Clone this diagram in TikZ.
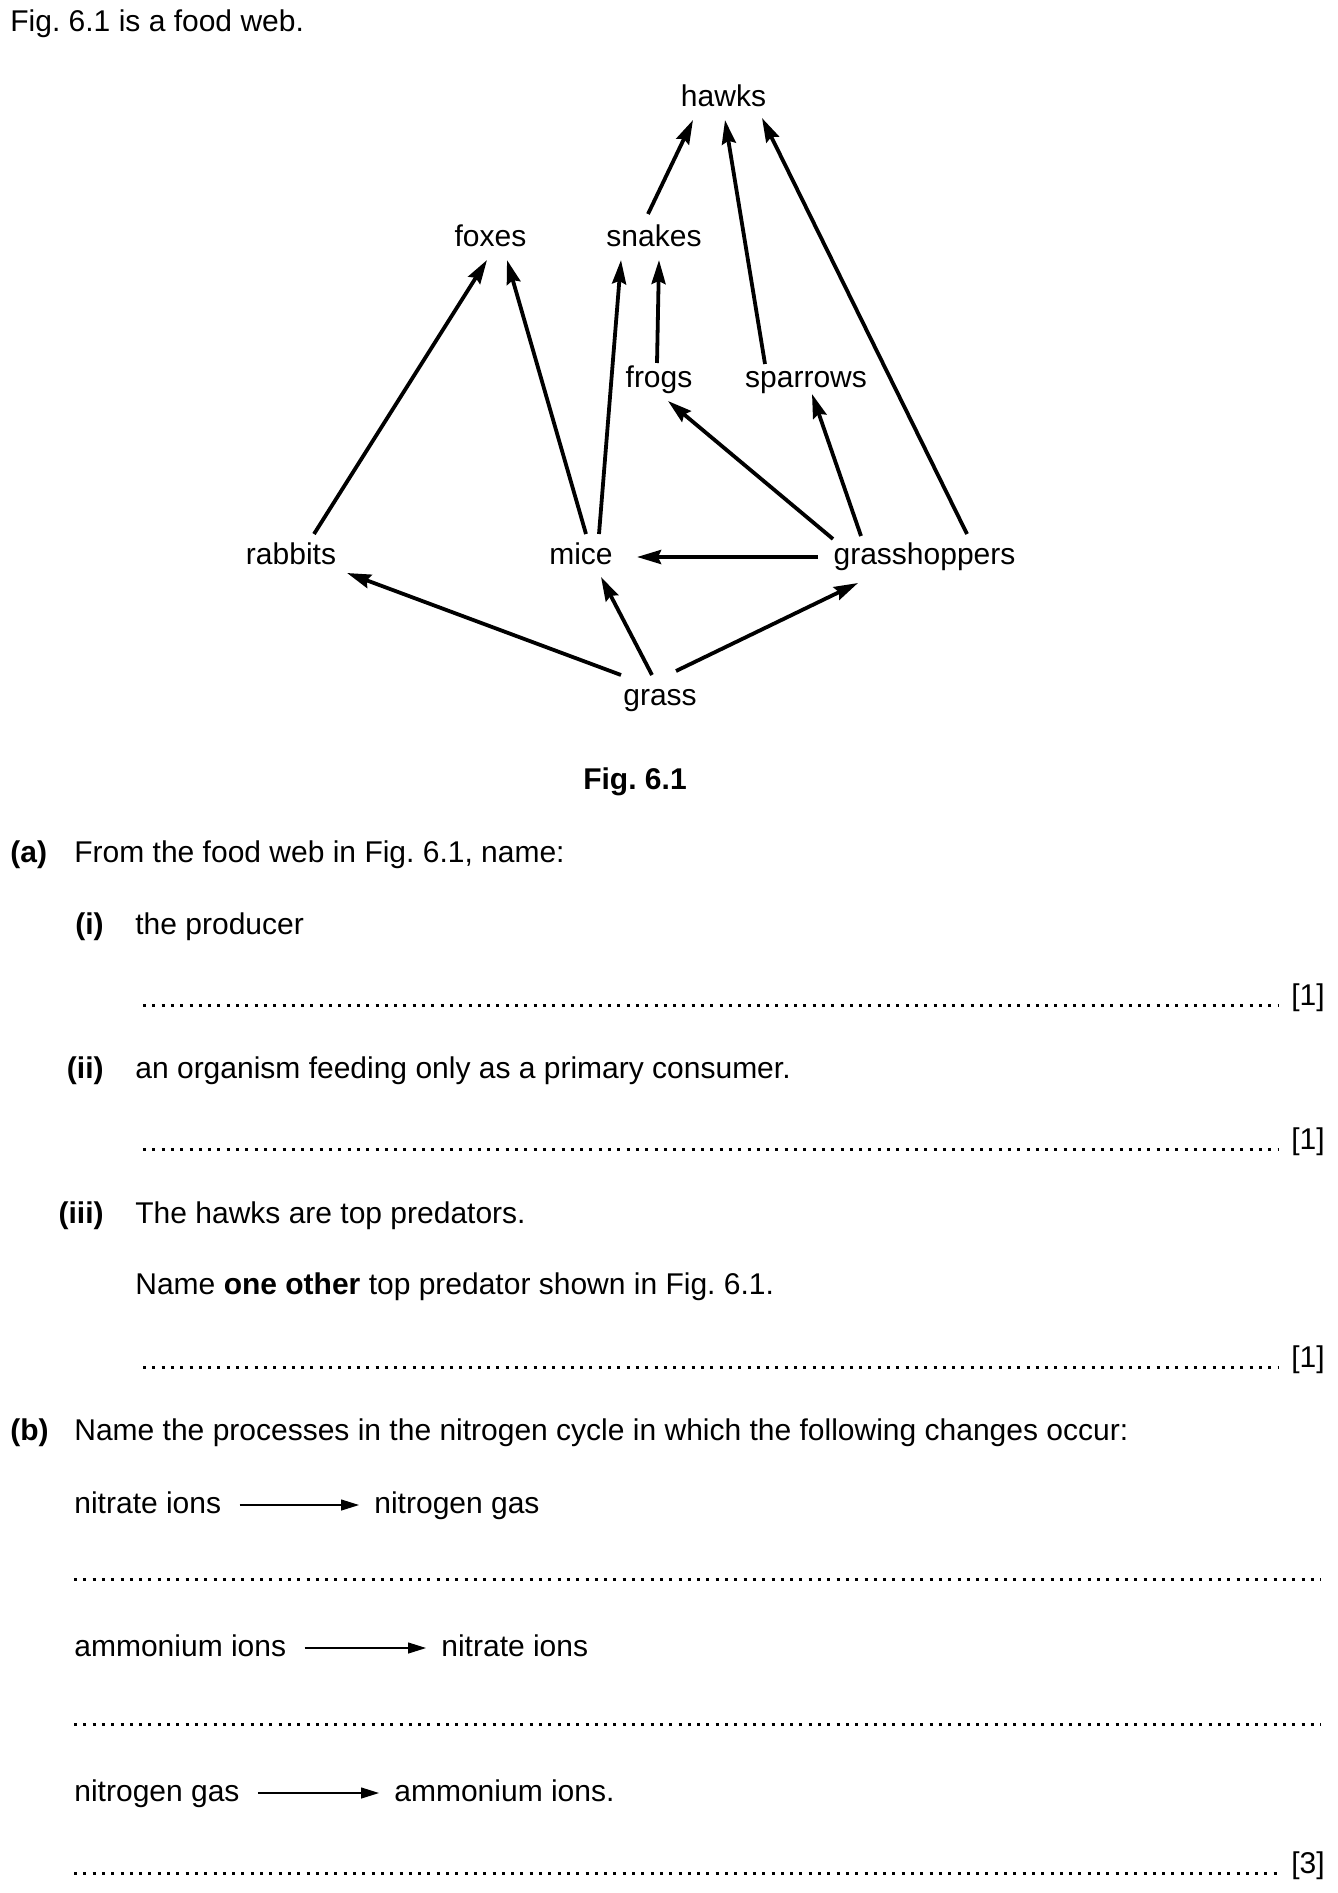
\documentclass[tikz,border=0pt]{standalone}
\usepackage{fontspec}
\setmainfont{Liberation Sans}
\usetikzlibrary{arrows.meta}
\frenchspacing
\begin{document}
\begin{tikzpicture}[x=0.5pt, y=-0.5pt,
        every node/.style={font=\fontsize{15}{18}\selectfont, inner sep=0pt},
        organism/.style={anchor=base, text height=11pt, text depth=2.5pt, outer sep=4pt},
        textline/.style={anchor=base west},
        score/.style={anchor=base east},
        feeds/.style={-{Stealth[length=12pt, width=7pt, inset=1.5pt]}, line width=1.9pt},
        reaction/.style={-{Triangle[length=9pt, width=5.5pt]}, line width=0.6pt},
        answer/.style={line width=1.5pt, dash pattern=on 1.5pt off 3.15pt}]
        \useasboundingbox (0,0) rectangle (1337,1893);

        % Introduzione
        \node[textline] (intro) at (10,32) {Fig. 6.1 is a food web.};

        % Organismi della rete
        \node[organism] (hawks) at (723.5,107) {hawks};
        \node[organism] (foxes) at (490.5,247) {foxes};
        \node[organism] (snakes) at (654,247) {snakes};
        \node[organism] (frogs) at (659,388) {frogs};
        \node[organism] (sparrows) at (806,388) {sparrows};
        \node[organism] (rabbits) at (291,564) {rabbits};
        \node[organism] (mice) at (581,564) {mice};
        \node[organism] (grasshoppers) at (924.5,564) {grasshoppers};
        \node[organism] (grass) at (660,705) {grass};

        % Chi mangia chi (la freccia va verso il predatore)
        \draw[feeds] ([xshift=-3pt, yshift=1.5pt]snakes.north) -- ([xshift=-15.25pt]hawks.south);
        \draw[feeds] ([xshift=-20.5pt, yshift=-3pt]sparrows.north) -- ([xshift=0.75pt]hawks.south);
        \draw[feeds] ([xshift=21.25pt]grasshoppers.north) -- ([xshift=19.25pt, yshift=1pt]hawks.south);
        \draw[feeds] ([xshift=11.5pt]rabbits.north) -- ([xshift=-1.75pt]foxes.south);
        \draw[feeds] ([xshift=2.5pt]mice.north) -- ([xshift=8.25pt]foxes.south);
        \draw[feeds] ([xshift=9pt]mice.north) -- ([xshift=-16.5pt]snakes.south);
        \draw[feeds] ([xshift=-1pt, yshift=-2.5pt]frogs.north) -- ([xshift=2.5pt]snakes.south);
        \draw[feeds] ([xshift=-45.75pt, yshift=-2.5pt]grasshoppers.north) -- ([xshift=4.5pt]frogs.south);
        \draw[feeds] ([xshift=-31.75pt, yshift=-1pt]grasshoppers.north) -- ([xshift=3pt, yshift=3.5pt]sparrows.south);
        \draw[feeds] ([xshift=-53.25pt, yshift=3.5pt]grasshoppers.base) -- ([xshift=28pt, yshift=3.5pt]mice.base);
        \draw[feeds] ([xshift=-19.5pt]grass.north) -- ([xshift=28pt, yshift=2pt]rabbits.south);
        \draw[feeds] ([xshift=-4pt]grass.north) -- ([xshift=10pt]mice.south);
        \draw[feeds] ([xshift=8pt, yshift=2pt]grass.north) -- ([xshift=-33.25pt, yshift=-3pt]grasshoppers.south);

        \node[anchor=base] (caption) at (635,789) {\bfseries Fig. 6.1};

        % Parte (a)
        \node[textline] (qa) at (10,862) {\bfseries (a)};
        \node[textline] (qatext) at (74,862) {From the food web in Fig. 6.1, name:};
        \node[score] (qi) at (104,934) {\bfseries (i)};
        \node[textline] (qitext) at (135,934) {the producer};
        \draw[answer] (143,1005) -- (1278,1005);
        \node[score] (mi) at (1325,1005) {[1]};
        \node[score] (qii) at (104,1078) {\bfseries (ii)};
        \node[textline] (qiitext) at (135,1078) {an organism feeding only as a primary consumer.};
        \draw[answer] (143,1149) -- (1278,1149);
        \node[score] (mii) at (1325,1149) {[1]};
        \node[score] (qiii) at (104,1223) {\bfseries (iii)};
        \node[textline] (qiiitext) at (135,1223) {The hawks are top predators.};
        \node[textline] (qiiiname) at (135,1294) {Name \textbf{one other} top predator shown in Fig. 6.1.};
        \draw[answer] (143,1367) -- (1278,1367);
        \node[score] (miii) at (1325,1367) {[1]};

        % Parte (b)
        \node[textline] (qb) at (10,1440) {\bfseries (b)};
        \node[textline] (qbtext) at (74,1440) {Name the processes in the nitrogen cycle in which the following changes occur:};

        \node[textline] (nitrate) at (74,1513) {nitrate ions};
        \node[textline] (nitrogen) at (374,1513) {nitrogen gas};
        \draw[reaction] ([xshift=9pt, yshift=4pt]nitrate.base east) -- ([xshift=-7.5pt, yshift=4pt]nitrogen.base west);
        \draw[answer] (74,1579) -- (1321,1579);

        \node[textline] (ammonium) at (74,1656) {ammonium ions};
        \node[textline] (nitrateb) at (441,1656) {nitrate ions};
        \draw[reaction] ([xshift=9pt, yshift=4pt]ammonium.base east) -- ([xshift=-7.5pt, yshift=4pt]nitrateb.base west);
        \draw[answer] (74,1724) -- (1321,1724);

        \node[textline] (nitrogenc) at (74,1801) {nitrogen gas};
        \node[textline] (ammoniumc) at (394,1801) {ammonium ions.};
        \draw[reaction] ([xshift=9pt, yshift=4pt]nitrogenc.base east) -- ([xshift=-7.5pt, yshift=4pt]ammoniumc.base west);
        \draw[answer] (74,1873) -- (1278,1873);
        \node[score] (mb) at (1325,1873) {[3]};
    \end{tikzpicture}
\end{document}
